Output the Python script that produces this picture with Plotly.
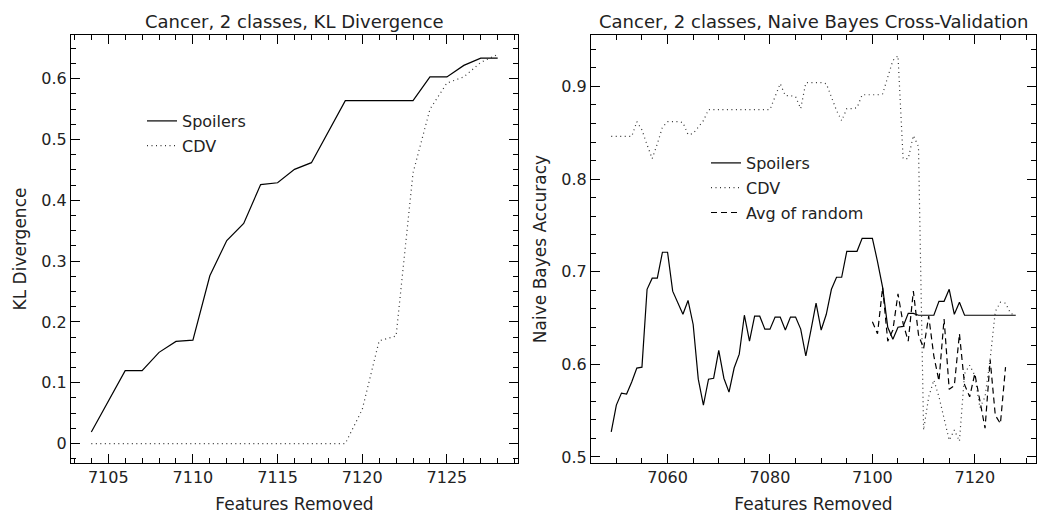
import plotly.graph_objects as go

# ---------------- data ----------------
kl_x = [7104, 7105, 7106, 7107, 7108, 7109, 7110, 7111, 7112, 7113, 7114, 7115, 7116,
        7117, 7118, 7119, 7120, 7121, 7122, 7123, 7124, 7125, 7126, 7127, 7128]
kl_spoilers = [0.019, 0.070, 0.120, 0.120, 0.150, 0.168, 0.170, 0.276, 0.334, 0.362, 0.426,
               0.429, 0.451, 0.462, 0.513, 0.564, 0.564, 0.564, 0.564, 0.564, 0.603, 0.603,
               0.622, 0.634, 0.634]
kl_cdv = [0.0, 0.0, 0.0, 0.0, 0.0, 0.0, 0.0, 0.0, 0.0, 0.0, 0.0, 0.0, 0.0, 0.0, 0.0, 0.0,
          0.056, 0.169, 0.177, 0.445, 0.550, 0.593, 0.603, 0.627, 0.640]

nb_x = [7049, 7050, 7051, 7052, 7053, 7054, 7055, 7056, 7057, 7058, 7059, 7060, 7061, 7062,
        7063, 7064, 7065, 7066, 7067, 7068, 7069, 7070, 7071, 7072, 7073, 7074, 7075, 7076,
        7077, 7078, 7079, 7080, 7081, 7082, 7083, 7084, 7085, 7086, 7087, 7088, 7089, 7090,
        7091, 7092, 7093, 7094, 7095, 7096, 7097, 7098, 7099, 7100, 7101, 7102, 7103, 7104,
        7105, 7106, 7107, 7108, 7109, 7110, 7111, 7112, 7113, 7114, 7115, 7116, 7117, 7118,
        7119, 7120, 7121, 7122, 7123, 7124, 7125, 7126, 7127, 7128]
nb_spoilers = [0.527, 0.556, 0.569, 0.568, 0.581, 0.596, 0.597, 0.681, 0.693, 0.693,
               0.721, 0.721, 0.679, 0.667, 0.654, 0.669, 0.643, 0.584, 0.556, 0.584,
               0.585, 0.615, 0.585, 0.570, 0.596, 0.611, 0.653, 0.625, 0.652, 0.652,
               0.638, 0.638, 0.651, 0.651, 0.637, 0.651, 0.651, 0.638, 0.609, 0.637,
               0.666, 0.637, 0.654, 0.681, 0.694, 0.694, 0.722, 0.722, 0.722, 0.736,
               0.736, 0.736, 0.711, 0.683, 0.640, 0.627, 0.640, 0.641, 0.655, 0.655,
               0.653, 0.653, 0.653, 0.653, 0.668, 0.668, 0.681, 0.654, 0.667, 0.653,
               0.653, 0.653, 0.653, 0.653, 0.653, 0.653, 0.653, 0.653, 0.653, 0.653]
nb_cdv = [0.846, 0.846, 0.846, 0.846, 0.846, 0.862, 0.853, 0.837, 0.822, 0.838,
          0.856, 0.862, 0.862, 0.862, 0.861, 0.848, 0.849, 0.856, 0.863, 0.875,
          0.875, 0.875, 0.875, 0.875, 0.875, 0.875, 0.875, 0.875, 0.875, 0.875,
          0.875, 0.875, 0.889, 0.903, 0.890, 0.890, 0.889, 0.876, 0.904, 0.904,
          0.904, 0.904, 0.903, 0.888, 0.874, 0.863, 0.876, 0.876, 0.877, 0.891,
          0.891, 0.891, 0.891, 0.892, 0.910, 0.928, 0.933, 0.822, 0.822, 0.847,
          0.835, 0.529, 0.565, 0.583, 0.565, 0.540, 0.518, 0.529, 0.517, 0.590,
          0.599, 0.588, 0.553, 0.565, 0.606, 0.657, 0.667, 0.666, 0.655, 0.653]
rand_x = [7100, 7101, 7102, 7103, 7104, 7105, 7106, 7107, 7108, 7109, 7110, 7111, 7112, 7113,
          7114, 7115, 7116, 7117, 7118, 7119, 7120, 7121, 7122, 7123, 7124, 7125, 7126]
nb_random = [0.646, 0.633, 0.683, 0.625, 0.637, 0.676, 0.644, 0.625, 0.679, 0.632,
             0.617, 0.652, 0.609, 0.582, 0.649, 0.573, 0.577, 0.633, 0.578, 0.565,
             0.590, 0.562, 0.531, 0.605, 0.545, 0.536, 0.597]

titles = ["Cancer, 2 classes, KL Divergence", "Cancer, 2 classes, Naive Bayes Cross-Validation"]
x_title = "Features Removed"
y_titles = ["KL Divergence", "Naive Bayes Accuracy"]

# ---------------- styling ----------------
FONT = "DejaVu Sans"
TXT = "#222222"
W, H = 1037, 514
ML, MR, MT, MB = 71, 1, 35, 51
PW = W - ML - MR
PH = H - MT - MB

def px2paper_x(px):
    return (px - ML) / PW

def py2paper_y(py):
    return 1 - (py - MT) / PH

solid = dict(color="black", width=1.2)
dotted = dict(color="#333333", width=1.2, dash="1px,3.5px")
dashed = dict(color="black", width=1.2, dash="6px,4px")

fig = go.Figure()
fig.add_trace(go.Scatter(x=kl_x, y=kl_spoilers, mode="lines", line=solid, name="Spoilers",
                         xaxis="x", yaxis="y", legend="legend", legendgroup="a"))
fig.add_trace(go.Scatter(x=kl_x, y=kl_cdv, mode="lines", line=dotted, name="CDV",
                         xaxis="x", yaxis="y", legend="legend", legendgroup="b"))
fig.add_trace(go.Scatter(x=nb_x, y=nb_spoilers, mode="lines", line=solid, name="Spoilers",
                         xaxis="x2", yaxis="y2", legend="legend2", legendgroup="c"))
fig.add_trace(go.Scatter(x=nb_x, y=nb_cdv, mode="lines", line=dotted, name="CDV",
                         xaxis="x2", yaxis="y2", legend="legend2", legendgroup="d"))
fig.add_trace(go.Scatter(x=rand_x, y=nb_random, mode="lines", line=dashed, name="Avg of random",
                         xaxis="x2", yaxis="y2", legend="legend2", legendgroup="e"))

axis_common = dict(showline=True, linecolor="black", linewidth=1, mirror="ticks",
                   ticks="inside", ticklen=9, tickwidth=1, tickcolor="black",
                   showgrid=False, zeroline=False, automargin=False,
                   tickfont=dict(family=FONT, size=16, color=TXT),
                   title_font=dict(family=FONT, size=17, color=TXT))

left_dom = [0, px2paper_x(518)]
right_dom = [px2paper_x(591), 1]

fig.update_layout(
    width=W, height=H,
    margin=dict(l=ML, r=MR, t=MT, b=MB),
    paper_bgcolor="white", plot_bgcolor="white",
    font=dict(family=FONT, size=16, color=TXT),
    xaxis=dict(domain=left_dom, anchor="y", range=[7102.8, 7129.2], dtick=5,
               minor=dict(dtick=1, ticklen=5, ticks="inside", tickcolor="black"),
               title=dict(text=x_title, standoff=18), **axis_common),
    yaxis=dict(domain=[0, 1], anchor="x", range=[-0.032, 0.672], dtick=0.1,
               minor=dict(dtick=0.025, ticklen=5, ticks="inside", tickcolor="black"),
               title=dict(text=y_titles[0], standoff=10), **axis_common),
    xaxis2=dict(domain=right_dom, anchor="y2", range=[7045.05, 7131.95], dtick=20,
                minor=dict(dtick=5, ticklen=5, ticks="inside", tickcolor="black"),
                title=dict(text=x_title, standoff=18), **axis_common),
    yaxis2=dict(domain=[0, 1], anchor="x2", range=[0.4935, 0.9555], dtick=0.1,
                minor=dict(dtick=0.02, ticklen=5, ticks="inside", tickcolor="black"),
                title=dict(text=y_titles[1], standoff=10), **axis_common),
    legend=dict(x=px2paper_x(142), y=py2paper_y(104), xanchor="left", yanchor="top",
                bgcolor="rgba(0,0,0,0)", borderwidth=0, tracegroupgap=1,
                font=dict(family=FONT, size=16, color=TXT)),
    legend2=dict(x=px2paper_x(706), y=py2paper_y(146), xanchor="left", yanchor="top",
                 bgcolor="rgba(0,0,0,0)", borderwidth=0, tracegroupgap=1,
                 font=dict(family=FONT, size=16, color=TXT)),
    showlegend=True,
)

fig.add_annotation(text=titles[0], xref="paper", yref="paper",
                   x=(left_dom[0] + left_dom[1]) / 2, y=py2paper_y(21),
                   xanchor="center", yanchor="middle", showarrow=False,
                   font=dict(family=FONT, size=18, color=TXT))
fig.add_annotation(text=titles[1], xref="paper", yref="paper",
                   x=(right_dom[0] + right_dom[1]) / 2, y=py2paper_y(21),
                   xanchor="center", yanchor="middle", showarrow=False,
                   font=dict(family=FONT, size=18, color=TXT))

fig.write_html("out.html")
